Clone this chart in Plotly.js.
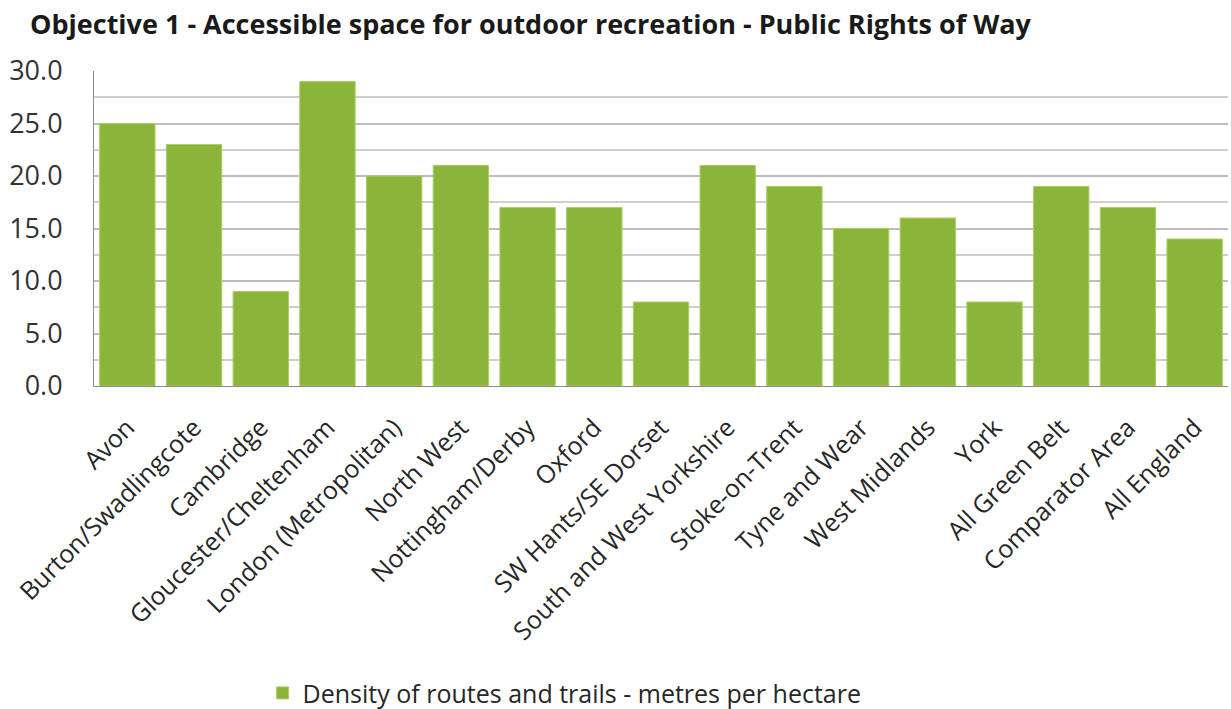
<!DOCTYPE html>
<html>
<head>
<meta charset="utf-8">
<script src="https://cdn.plot.ly/plotly-3.0.1.min.js"></script>
<style>html,body{margin:0;padding:0;background:#fff;}#chart{width:1231px;height:709px;}</style>
</head>
<body>
<div id="chart"></div>
<script>
var categories = ["Avon","Burton/Swadlingcote","Cambridge","Gloucester/Cheltenham","London (Metropolitan)","North West","Nottingham/Derby","Oxford","SW Hants/SE Dorset","South and West Yorkshire","Stoke-on-Trent","Tyne and Wear","West Midlands","York","All Green Belt","Comparator Area","All England"];
var density = [25, 23, 9, 29, 20, 21, 17, 17, 8, 21, 19, 15, 16, 8, 19, 17, 14];
var seriesName = "Density of routes and trails - metres per hectare";
var chartTitle = "Objective 1 - Accessible space for outdoor recreation - Public Rights of Way";
var yTickVals = [0, 5, 10, 15, 20, 25, 30];
var yTickText = ["0.0","5.0","10.0","15.0","20.0","25.0","30.0"];

var FONT = "Open Sans, sans-serif";
var trace = {
  type: "bar",
  x: categories,
  y: density,
  name: seriesName,
  marker: {color: "#8bb53a", line: {color: "#a9cf5e", width: 1}},
  hoverinfo: "x+y"
};
var layout = {
  width: 1231, height: 709,
  margin: {l: 94, r: 3, t: 71, b: 323, autoexpand: false},
  paper_bgcolor: "#ffffff", plot_bgcolor: "#ffffff",
  title: {text: chartTitle, x: 30/1231, xanchor: "left", y: 1 - 25/709, yanchor: "middle",
          font: {family: FONT, size: 27, color: "#1a1a1a", weight: "bold"}},
  bargap: 0.17,
  showlegend: true,
  legend: {orientation: "h", x: 0.415, xanchor: "center", y: -0.975, yanchor: "middle",
           font: {family: FONT, size: 25, color: "#262626"}},
  xaxis: {
    type: "category", tickangle: -45, showgrid: false, showline: true, linecolor: "#8c8c8c", linewidth: 1,
    ticks: "", tickfont: {family: FONT, size: 25, color: "#262626"}, ticklabelstandoff: 16,
    automargin: false
  },
  yaxis: {
    range: [0, 30], tickvals: yTickVals, ticktext: yTickText,
    showline: true, linecolor: "#8c8c8c", linewidth: 1, ticks: "",
    showgrid: true, gridcolor: "#bdbdbd", gridwidth: 1.5, zeroline: false,
    minor: {dtick: 2.5, showgrid: true, gridcolor: "#cfcfcf", gridwidth: 1.5},
    tickfont: {family: FONT, size: 27, color: "#333333"}, ticklabelstandoff: 25,
    automargin: false
  }
};
Plotly.newPlot("chart", [trace], layout, {displayModeBar: false});
</script>
</body>
</html>
